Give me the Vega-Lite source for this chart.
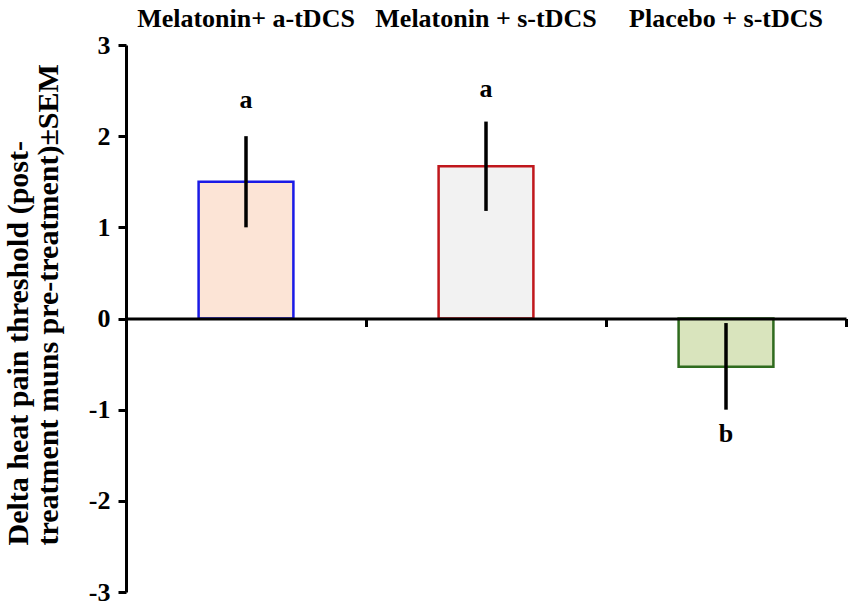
{
  "$schema": "https://vega.github.io/schema/vega-lite/v6.json",
  "width": 720,
  "height": 547,
  "autosize": "none",
  "padding": {"left": 126, "top": 45, "right": 4, "bottom": 13},
  "data": {
    "values": [
      {"group": "Melatonin+ a-tDCS", "mean": 1.5, "low": 1.0, "high": 2.0, "letter": "a", "letterPos": 2.4},
      {"group": "Melatonin + s-tDCS", "mean": 1.67, "low": 1.18, "high": 2.16, "letter": "a", "letterPos": 2.52},
      {"group": "Placebo + s-tDCS", "mean": -0.53, "low": -1.0, "high": -0.05, "letter": "b", "letterPos": -1.27}
    ]
  },
  "config": {
    "view": {"stroke": null},
    "font": "Liberation Serif"
  },
  "layer": [
    {
      "mark": {"type": "bar", "width": {"band": 0.395}, "strokeWidth": 2.5},
      "encoding": {
        "x": {
          "field": "group",
          "type": "nominal",
          "sort": null,
          "scale": {"paddingInner": 0, "paddingOuter": 0},
          "axis": {
            "orient": "top",
            "title": null,
            "domain": false,
            "ticks": false,
            "labelAngle": 0,
            "labelLimit": 400,
            "labelFont": "Liberation Serif",
            "labelFontWeight": "bold",
            "labelFontSize": 26,
            "labelColor": "black",
            "labelPadding": 14
          }
        },
        "y": {
          "field": "mean",
          "type": "quantitative",
          "scale": {"domain": [-3, 3], "nice": false},
          "axis": {
            "values": [-3, -2, -1, 0, 1, 2, 3],
            "labelExpr": "toString(datum.value)",
            "grid": false,
            "domainColor": "black",
            "domainWidth": 3,
            "tickColor": "black",
            "tickWidth": 3,
            "tickSize": 8,
            "labelFont": "Liberation Serif",
            "labelFontWeight": "bold",
            "labelFontSize": 26,
            "labelColor": "black",
            "labelPadding": 8,
            "title": ["Delta heat pain threshold (post-", "treatment muns pre-treatment)±SEM"],
            "titleFont": "Liberation Serif",
            "titleFontWeight": "bold",
            "titleFontSize": 30,
            "titleColor": "black",
            "titleLineHeight": 30,
            "titleAlign": "left",
            "titleY": 500,
            "titlePadding": 25
          }
        },
        "fill": {
          "field": "group",
          "type": "nominal",
          "scale": {
            "domain": ["Melatonin+ a-tDCS", "Melatonin + s-tDCS", "Placebo + s-tDCS"],
            "range": ["#fce4d6", "#f2f2f2", "#d9e4bd"]
          },
          "legend": null
        },
        "stroke": {
          "field": "group",
          "type": "nominal",
          "scale": {
            "domain": ["Melatonin+ a-tDCS", "Melatonin + s-tDCS", "Placebo + s-tDCS"],
            "range": ["#1a1ae6", "#c0171c", "#2f6b1e"]
          },
          "legend": null
        }
      }
    },
    {
      "mark": {"type": "rule", "strokeWidth": 3.5, "color": "black"},
      "encoding": {
        "x": {
          "field": "group",
          "type": "nominal",
          "sort": null,
          "axis": {
            "orient": "bottom",
            "offset": -273.5,
            "zindex": 1,
            "title": null,
            "labels": false,
            "tickBand": "extent",
            "tickSize": 8,
            "tickWidth": 3,
            "tickColor": "black",
            "domainColor": "black",
            "domainWidth": 3
          }
        },
        "y": {"field": "low", "type": "quantitative"},
        "y2": {"field": "high"}
      }
    },
    {
      "mark": {"type": "text", "font": "Liberation Serif", "fontWeight": "bold", "fontSize": 26, "color": "black"},
      "encoding": {
        "x": {"field": "group", "type": "nominal", "sort": null, "axis": null},
        "y": {"field": "letterPos", "type": "quantitative"},
        "text": {"field": "letter"}
      }
    }
  ],
  "resolve": {"axis": {"x": "independent"}}
}
